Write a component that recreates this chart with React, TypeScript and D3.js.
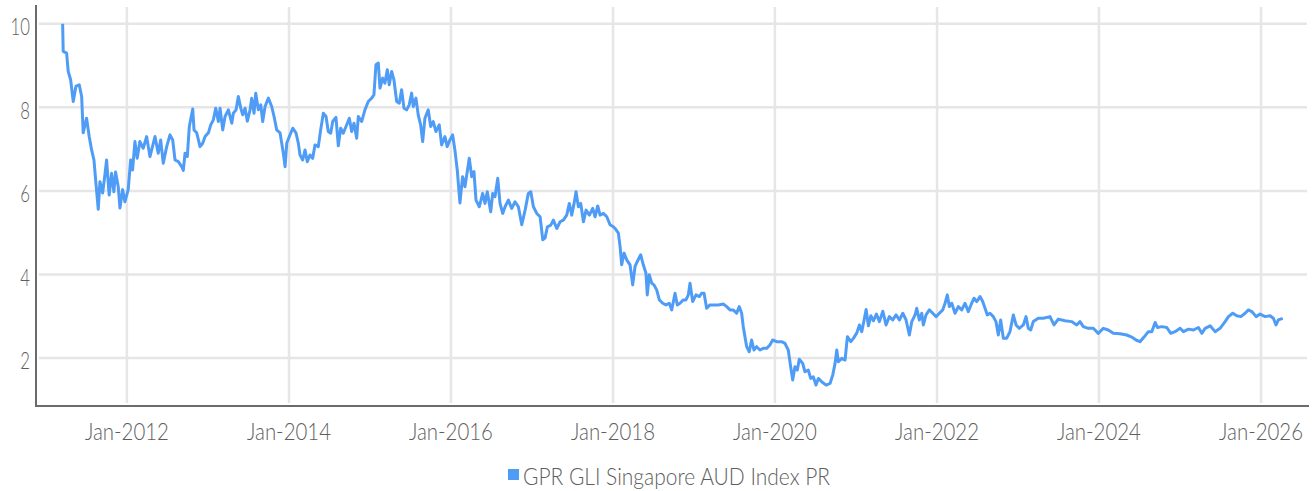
import React, { useEffect, useRef } from 'react';
import * as d3 from 'd3';

// GPR GLI Singapore AUD Index PR, [decimal year, value]
const seriesName = 'GPR GLI Singapore AUD Index PR';
const points: [number, number][] = [
  [2011.206, 10.0], [2011.213, 9.34], [2011.255, 9.3], [2011.275, 8.86], [2011.305, 8.66],
  [2011.337, 8.14], [2011.37, 8.5], [2011.411, 8.54], [2011.441, 8.26], [2011.46, 7.39],
  [2011.502, 7.74], [2011.534, 7.3], [2011.564, 6.98], [2011.593, 6.74], [2011.617, 6.19],
  [2011.646, 5.56], [2011.667, 6.22], [2011.7, 5.95], [2011.728, 6.38], [2011.749, 6.74],
  [2011.781, 5.9], [2011.811, 6.42], [2011.839, 5.98], [2011.86, 6.45], [2011.893, 6.1],
  [2011.914, 5.59], [2011.947, 6.03], [2011.975, 5.74], [2012.016, 6.03], [2012.046, 6.74],
  [2012.07, 6.5], [2012.099, 7.18], [2012.127, 6.78], [2012.16, 7.18], [2012.201, 7.02],
  [2012.243, 7.3], [2012.284, 6.82], [2012.346, 7.3], [2012.386, 6.9], [2012.416, 7.22],
  [2012.448, 6.66], [2012.49, 7.06], [2012.531, 7.34], [2012.564, 7.22], [2012.593, 6.74],
  [2012.633, 6.7], [2012.675, 6.58], [2012.695, 6.49], [2012.716, 6.9], [2012.744, 6.82],
  [2012.769, 7.54], [2012.811, 7.96], [2012.827, 7.46], [2012.86, 7.39], [2012.901, 7.06],
  [2012.934, 7.14], [2012.963, 7.3], [2013.004, 7.39], [2013.033, 7.58], [2013.065, 7.7],
  [2013.095, 7.98], [2013.127, 7.66], [2013.148, 7.98], [2013.181, 7.46], [2013.21, 7.78],
  [2013.251, 7.94], [2013.293, 7.62], [2013.312, 7.86], [2013.346, 7.94], [2013.374, 8.26],
  [2013.404, 7.98], [2013.428, 7.82], [2013.457, 7.98], [2013.485, 7.67], [2013.519, 7.94],
  [2013.539, 8.22], [2013.568, 7.86], [2013.589, 8.34], [2013.621, 7.94], [2013.651, 8.06],
  [2013.675, 7.66], [2013.704, 8.02], [2013.745, 8.22], [2013.786, 8.02], [2013.815, 7.78],
  [2013.848, 7.46], [2013.889, 7.39], [2013.91, 7.14], [2013.93, 6.9], [2013.951, 6.58],
  [2013.972, 7.14], [2014.004, 7.3], [2014.046, 7.5], [2014.086, 7.39], [2014.115, 7.14],
  [2014.136, 6.86], [2014.169, 6.74], [2014.198, 6.98], [2014.226, 6.7], [2014.259, 6.86],
  [2014.292, 6.78], [2014.321, 7.1], [2014.362, 7.06], [2014.391, 7.46], [2014.424, 7.86],
  [2014.457, 7.78], [2014.485, 7.42], [2014.515, 7.38], [2014.54, 7.66], [2014.58, 7.76],
  [2014.609, 7.08], [2014.638, 7.5], [2014.67, 7.38], [2014.704, 7.54], [2014.745, 7.74],
  [2014.774, 7.42], [2014.803, 7.62], [2014.836, 7.26], [2014.856, 7.78], [2014.897, 7.66],
  [2014.938, 7.94], [2014.979, 8.14], [2015.021, 8.22], [2015.049, 8.3], [2015.074, 9.02],
  [2015.103, 9.06], [2015.124, 8.46], [2015.157, 8.7], [2015.185, 8.58], [2015.214, 8.9],
  [2015.238, 8.54], [2015.268, 8.86], [2015.296, 8.66], [2015.33, 8.14], [2015.362, 8.1],
  [2015.391, 8.42], [2015.42, 7.98], [2015.453, 7.94], [2015.485, 8.06], [2015.515, 8.34],
  [2015.535, 8.02], [2015.568, 8.22], [2015.596, 7.82], [2015.626, 7.58], [2015.651, 7.18],
  [2015.679, 7.74], [2015.72, 7.94], [2015.75, 7.54], [2015.782, 7.66], [2015.815, 7.42],
  [2015.856, 7.58], [2015.885, 7.1], [2015.926, 7.3], [2015.954, 7.06], [2015.988, 7.22],
  [2016.021, 7.34], [2016.049, 6.98], [2016.078, 6.5], [2016.111, 5.71], [2016.144, 6.34],
  [2016.173, 6.1], [2016.201, 6.46], [2016.226, 6.78], [2016.256, 6.34], [2016.284, 6.46],
  [2016.309, 5.78], [2016.35, 5.62], [2016.391, 5.94], [2016.42, 5.7], [2016.448, 5.98],
  [2016.49, 5.5], [2016.515, 5.94], [2016.543, 5.86], [2016.577, 6.3], [2016.605, 5.7],
  [2016.638, 5.46], [2016.667, 5.62], [2016.708, 5.78], [2016.749, 5.58], [2016.79, 5.74],
  [2016.831, 5.62], [2016.873, 5.19], [2016.914, 5.54], [2016.954, 5.94], [2016.984, 5.98],
  [2017.016, 5.62], [2017.058, 5.46], [2017.099, 5.38], [2017.132, 4.83], [2017.16, 4.87],
  [2017.189, 5.14], [2017.231, 5.18], [2017.263, 5.3], [2017.305, 5.1], [2017.346, 5.26],
  [2017.386, 5.3], [2017.428, 5.42], [2017.46, 5.7], [2017.49, 5.42], [2017.519, 5.7],
  [2017.543, 5.98], [2017.572, 5.62], [2017.601, 5.7], [2017.634, 5.26], [2017.667, 5.54],
  [2017.708, 5.42], [2017.749, 5.58], [2017.778, 5.38], [2017.811, 5.64], [2017.84, 5.42],
  [2017.881, 5.46], [2017.923, 5.38], [2017.963, 5.19], [2018.004, 5.14], [2018.025, 5.1],
  [2018.066, 4.99], [2018.087, 4.67], [2018.107, 4.23], [2018.136, 4.51], [2018.169, 4.35],
  [2018.21, 4.23], [2018.243, 3.75], [2018.272, 4.19], [2018.3, 4.31], [2018.342, 4.47],
  [2018.374, 4.23], [2018.407, 4.03], [2018.423, 3.51], [2018.448, 3.99], [2018.478, 3.79],
  [2018.506, 3.75], [2018.539, 3.63], [2018.572, 3.39], [2018.614, 3.31], [2018.654, 3.27],
  [2018.695, 3.31], [2018.725, 3.15], [2018.766, 3.55], [2018.794, 3.27], [2018.827, 3.31],
  [2018.868, 3.39], [2018.901, 3.39], [2018.93, 3.51], [2018.951, 3.79], [2018.984, 3.35],
  [2019.025, 3.51], [2019.066, 3.47], [2019.095, 3.55], [2019.124, 3.55], [2019.157, 3.19],
  [2019.198, 3.27], [2019.239, 3.27], [2019.3, 3.27], [2019.362, 3.29], [2019.404, 3.23],
  [2019.445, 3.15], [2019.485, 3.15], [2019.527, 3.07], [2019.559, 3.23], [2019.589, 3.07],
  [2019.609, 2.75], [2019.651, 2.27], [2019.683, 2.15], [2019.712, 2.43], [2019.741, 2.19],
  [2019.774, 2.27], [2019.815, 2.19], [2019.856, 2.23], [2019.898, 2.23], [2019.938, 2.31],
  [2019.972, 2.43], [2020.021, 2.39], [2020.083, 2.39], [2020.124, 2.35], [2020.164, 2.19],
  [2020.194, 1.79], [2020.219, 1.47], [2020.247, 1.79], [2020.276, 1.71], [2020.3, 1.97],
  [2020.342, 1.87], [2020.37, 1.67], [2020.411, 1.71], [2020.441, 1.51], [2020.473, 1.55],
  [2020.506, 1.35], [2020.535, 1.51], [2020.576, 1.43], [2020.63, 1.35], [2020.679, 1.39],
  [2020.712, 1.59], [2020.741, 1.87], [2020.762, 2.19], [2020.782, 1.91], [2020.824, 1.99],
  [2020.864, 1.95], [2020.893, 2.51], [2020.935, 2.39], [2020.967, 2.47], [2021.009, 2.6],
  [2021.041, 2.79], [2021.07, 2.63], [2021.099, 2.91], [2021.124, 3.16], [2021.152, 2.77],
  [2021.182, 3.01], [2021.214, 2.89], [2021.251, 3.05], [2021.288, 2.87], [2021.33, 3.12],
  [2021.37, 2.79], [2021.411, 2.99], [2021.453, 2.91], [2021.494, 3.03], [2021.535, 2.91],
  [2021.577, 3.07], [2021.617, 2.91], [2021.658, 2.55], [2021.688, 2.87], [2021.729, 3.03],
  [2021.749, 3.19], [2021.781, 2.91], [2021.811, 3.07], [2021.831, 2.79], [2021.864, 3.03],
  [2021.905, 3.15], [2021.947, 3.07], [2021.988, 2.99], [2022.029, 3.07], [2022.07, 3.15],
  [2022.099, 3.31], [2022.127, 3.51], [2022.152, 3.23], [2022.182, 3.31], [2022.222, 3.07],
  [2022.263, 3.23], [2022.305, 3.15], [2022.346, 3.31], [2022.386, 3.11], [2022.428, 3.31],
  [2022.457, 3.43], [2022.49, 3.35], [2022.531, 3.47], [2022.564, 3.35], [2022.593, 3.19],
  [2022.621, 3.03], [2022.654, 3.07], [2022.695, 2.99], [2022.728, 2.87], [2022.757, 2.55],
  [2022.786, 2.91], [2022.819, 2.47], [2022.86, 2.47], [2022.901, 2.63], [2022.942, 3.03],
  [2022.976, 2.79], [2023.016, 2.71], [2023.066, 2.79], [2023.099, 2.99], [2023.127, 2.71],
  [2023.157, 2.67], [2023.189, 2.87], [2023.251, 2.95], [2023.313, 2.95], [2023.395, 2.99],
  [2023.445, 2.79], [2023.498, 2.93], [2023.58, 2.89], [2023.663, 2.87], [2023.725, 2.79],
  [2023.766, 2.87], [2023.807, 2.75], [2023.868, 2.71], [2023.93, 2.71], [2023.992, 2.59],
  [2024.054, 2.71], [2024.115, 2.67], [2024.177, 2.59], [2024.259, 2.58], [2024.342, 2.55],
  [2024.404, 2.5], [2024.457, 2.43], [2024.506, 2.39], [2024.555, 2.5], [2024.609, 2.63],
  [2024.651, 2.63], [2024.692, 2.85], [2024.72, 2.73], [2024.774, 2.75], [2024.836, 2.73],
  [2024.885, 2.59], [2024.938, 2.63], [2025.0, 2.71], [2025.041, 2.63], [2025.103, 2.69],
  [2025.165, 2.67], [2025.226, 2.73], [2025.268, 2.59], [2025.309, 2.71], [2025.371, 2.77],
  [2025.432, 2.63], [2025.494, 2.71], [2025.556, 2.87], [2025.597, 2.99], [2025.651, 3.07],
  [2025.7, 3.01], [2025.75, 2.99], [2025.803, 3.07], [2025.844, 3.15], [2025.886, 3.11],
  [2025.939, 2.99], [2025.988, 3.05], [2026.05, 2.99], [2026.111, 3.01], [2026.152, 2.95],
  [2026.185, 2.79], [2026.214, 2.91], [2026.268, 2.95],
];

const yTicks = [2, 4, 6, 8, 10];
const xTickYears = [2012, 2014, 2016, 2018, 2020, 2022, 2024, 2026];
const xDomainYears = [2010.877, 2026.58];
const yDomain = [0.85, 10.45];

const lineColor = '#4f9cf7';
const textColor = '#5e5e5e';
const gridColor = '#e6e6e6';
const axisColor = '#6b6b6b';

const toDate = (t: number) => {
  const y = Math.floor(t);
  const start = new Date(y, 0, 1).getTime();
  const end = new Date(y + 1, 0, 1).getTime();
  return new Date(start + (t - y) * (end - start));
};

const App = () => {
  const ref = useRef<SVGSVGElement | null>(null);

  useEffect(() => {
    const width = 1316;
    const height = 491;
    const left = 36, right = 1308, top = 5, bottom = 406;

    const svg = d3.select(ref.current)
      .attr('width', width)
      .attr('height', height);
    svg.selectAll('*').remove();

    const x = d3.scaleTime()
      .domain(xDomainYears.map(toDate))
      .range([left, right]);
    const y = d3.scaleLinear().domain(yDomain).range([bottom, top]);
    const fmt = d3.timeFormat('%b-%Y');
    const font = 'Lato, Roboto, sans-serif';

    // gridlines
    svg.append('g').selectAll('line')
      .data(yTicks)
      .enter().append('line')
      .attr('x1', left + 3).attr('x2', right - 1)
      .attr('y1', d => y(d)).attr('y2', d => y(d))
      .attr('stroke', gridColor).attr('stroke-width', 2.5);

    svg.append('g').selectAll('line')
      .data(xTickYears.map(yy => new Date(yy, 0, 1)))
      .enter().append('line')
      .attr('x1', d => x(d)).attr('x2', d => x(d))
      .attr('y1', top + 2).attr('y2', bottom - 3)
      .attr('stroke', gridColor).attr('stroke-width', 2.5);

    // series
    const line = d3.line<[number, number]>()
      .x(d => x(toDate(d[0])))
      .y(d => y(d[1]))
      .curve(d3.curveLinear);

    svg.append('path')
      .datum(points)
      .attr('d', line)
      .attr('fill', 'none')
      .attr('stroke', lineColor)
      .attr('stroke-width', 3)
      .attr('stroke-linejoin', 'round');

    // axis lines
    svg.append('line')
      .attr('x1', left).attr('x2', left)
      .attr('y1', top).attr('y2', bottom + 1)
      .attr('stroke', axisColor).attr('stroke-width', 2);
    svg.append('line')
      .attr('x1', left).attr('x2', right + 1)
      .attr('y1', bottom).attr('y2', bottom)
      .attr('stroke', axisColor).attr('stroke-width', 2);

    // tick labels
    svg.append('g').selectAll('text')
      .data(yTicks)
      .enter().append('text')
      .text(d => d)
      .attr('x', 30)
      .attr('y', d => y(d) + 11.5)
      .attr('text-anchor', 'end')
      .attr('textLength', d => String(d).length * 9.7)
      .attr('lengthAdjust', 'spacingAndGlyphs')
      .attr('fill', textColor)
      .style('font-family', font)
      .style('font-weight', 300)
      .style('font-size', '23px');

    svg.append('g').selectAll('text')
      .data(xTickYears.map(yy => new Date(yy, 0, 1)))
      .enter().append('text')
      .text(d => fmt(d))
      .attr('x', d => x(d) - 42)
      .attr('y', 440)
      .attr('textLength', 84)
      .attr('lengthAdjust', 'spacingAndGlyphs')
      .attr('fill', textColor)
      .style('font-family', font)
      .style('font-weight', 300)
      .style('font-size', '23px');

    // legend
    svg.append('rect')
      .attr('x', 508).attr('y', 469)
      .attr('width', 11).attr('height', 11)
      .attr('fill', lineColor);
    svg.append('text')
      .text(seriesName)
      .attr('x', 523)
      .attr('y', 485)
      .attr('textLength', 307)
      .attr('lengthAdjust', 'spacingAndGlyphs')
      .attr('fill', textColor)
      .style('font-family', font)
      .style('font-weight', 300)
      .style('font-size', '23px');
  }, []);

  return (
    <div style={{ position: 'absolute', left: 0, top: 0 }}>
      <svg ref={ref} style={{ display: 'block' }}></svg>
    </div>
  );
};

export default App;
